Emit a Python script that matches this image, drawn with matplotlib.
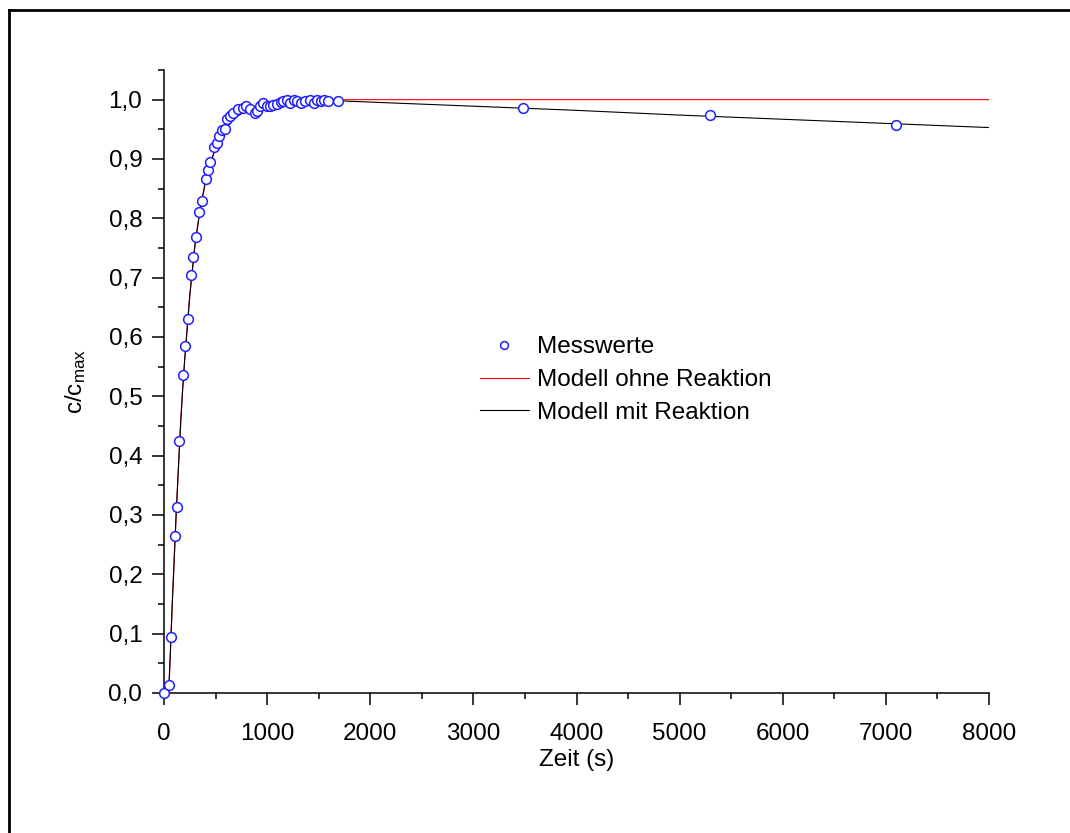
import matplotlib
matplotlib.use("Agg")
import matplotlib.pyplot as plt
from matplotlib.lines import Line2D
from matplotlib.ticker import MultipleLocator, FuncFormatter

plt.rcParams['font.family'] = ['Liberation Sans', 'DejaVu Sans']
plt.rcParams['mathtext.fontset'] = 'custom'
plt.rcParams['mathtext.rm'] = 'Liberation Sans'
plt.rcParams['mathtext.it'] = 'Liberation Sans'

# Measured data (Messwerte)
t_meas = [0, 48, 68, 107, 130, 149, 188, 207, 230, 265, 285, 307, 343, 366, 408,
          430, 450, 488, 511, 530, 561, 590, 613, 639, 672, 720, 768, 795, 833,
          885, 905, 932, 964, 997, 1029, 1061, 1094, 1133, 1152, 1197, 1223,
          1262, 1288, 1327, 1369, 1411, 1450, 1482, 1521, 1553, 1595, 1686,
          3485, 5291, 7097]
c_meas = [0.000, 0.014, 0.094, 0.265, 0.314, 0.424, 0.536, 0.585, 0.630, 0.704,
          0.735, 0.768, 0.811, 0.830, 0.866, 0.881, 0.895, 0.920, 0.927, 0.939,
          0.949, 0.951, 0.967, 0.973, 0.977, 0.985, 0.986, 0.989, 0.984, 0.977,
          0.981, 0.989, 0.995, 0.990, 0.989, 0.991, 0.992, 0.996, 0.997, 1.000,
          0.995, 0.999, 0.997, 0.995, 0.997, 0.999, 0.995, 0.999, 0.998, 0.999,
          0.998, 0.997, 0.986, 0.975, 0.958]

# Model without reaction
t_model_ohne = [45, 60, 80, 100, 120, 140, 160, 180, 200, 250, 300, 350, 400, 450,
                500, 600, 700, 800, 1000, 1200, 1500, 1700, 8000]
c_model_ohne = [0.0, 0.06, 0.15, 0.23, 0.31, 0.38, 0.45, 0.51, 0.56, 0.67, 0.755,
                0.815, 0.86, 0.893, 0.918, 0.952, 0.971, 0.982, 0.993, 0.997,
                0.999, 1.0, 1.0]

# Model with reaction
t_model_mit = [45, 60, 80, 100, 120, 140, 160, 180, 200, 250, 300, 350, 400, 450,
               500, 600, 700, 800, 1000, 1200, 1500, 1700, 3000, 4000, 5000, 6000,
               7000, 8000]
c_model_mit = [0.0, 0.06, 0.15, 0.23, 0.31, 0.38, 0.45, 0.51, 0.56, 0.67, 0.755,
               0.815, 0.86, 0.893, 0.918, 0.952, 0.971, 0.982, 0.993, 0.997,
               0.998, 0.998, 0.989, 0.982, 0.974, 0.967, 0.960, 0.953]

W, H = 1070, 833
fig = plt.figure(figsize=(W / 100, H / 100), dpi=100)
ax = fig.add_axes([164 / W, 1 - 693 / H, (989 - 164) / W, (693 - 70) / H])

fs = 17.5
ax.plot(t_model_ohne, c_model_ohne, color='#ff0000', lw=0.8, label='Modell ohne Reaktion', zorder=2)
ax.plot(t_model_mit, c_model_mit, color='black', lw=0.8, label='Modell mit Reaktion', zorder=3)
ax.plot(t_meas, c_meas, linestyle='none', marker='o', ms=7.0, mfc='white', mec='#1f1fff',
        mew=1.1, label='Messwerte', zorder=4, clip_on=False)

ax.set_xlim(0, 8000)
ax.set_ylim(0, 1.05)
ax.xaxis.set_major_locator(MultipleLocator(1000))
ax.xaxis.set_minor_locator(MultipleLocator(500))
ax.yaxis.set_major_locator(MultipleLocator(0.1))
ax.yaxis.set_minor_locator(MultipleLocator(0.05))
ax.yaxis.set_major_formatter(FuncFormatter(lambda v, p: f"{v:.1f}".replace('.', ',')))

for s in ['top', 'right']:
    ax.spines[s].set_visible(False)
for s in ['left', 'bottom']:
    ax.spines[s].set_linewidth(1.1)
ax.tick_params(which='major', direction='out', length=8.6, width=1.1, labelsize=fs)
ax.tick_params(which='minor', direction='out', length=4.3, width=1.1)
ax.tick_params(axis='x', which='major', pad=13)
ax.tick_params(axis='y', which='major', pad=7)

ax.set_xlabel('Zeit (s)', fontsize=fs, labelpad=3)
ax.set_ylabel(r'c/c$_{\mathregular{max}}$', fontsize=fs, labelpad=15)

handles, labels = ax.get_legend_handles_labels()
order = [2, 0, 1]
leg = ax.legend([handles[i] for i in order], [labels[i] for i in order],
                loc='center left', bbox_to_anchor=(480 / W, 1 - 380 / H),
                bbox_transform=fig.transFigure, frameon=False, fontsize=fs,
                handlelength=2.0, handletextpad=0.35, borderpad=0, borderaxespad=0,
                labelspacing=0.45, markerscale=0.8)

# Figure frame (left and top edges visible)
fig.add_artist(Line2D([8.7 / W, 8.7 / W], [0, 1 - 10.3 / H], color='black', lw=2.0,
                      transform=fig.transFigure))
fig.add_artist(Line2D([8.7 / W, 1], [1 - 10.3 / H, 1 - 10.3 / H], color='black', lw=2.0,
                      transform=fig.transFigure))

fig.savefig('out.png', dpi=100)
